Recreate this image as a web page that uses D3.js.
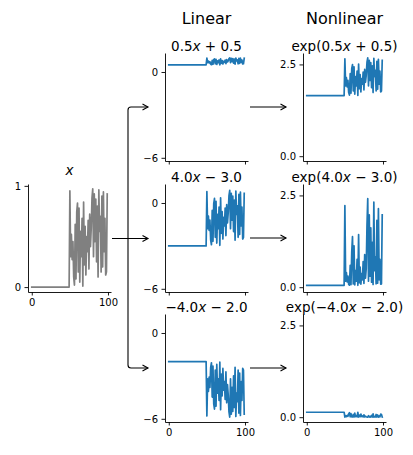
<!DOCTYPE html>
<html><head><meta charset="utf-8">
<script src="https://cdn.jsdelivr.net/npm/d3@7"></script>
<style>body{margin:0;background:#fff} text{font-family:"DejaVu Sans",sans-serif}</style>
</head><body><svg id="c" width="413" height="455"></svg>
<script>
// ---- data ----
const xValues = [
  0,0,0,0,0,0,0,0,0,0, 0,0,0,0,0,0,0,0,0,0,
  0,0,0,0,0,0,0,0,0,0, 0,0,0,0,0,0,0,0,0,0,
  0,0,0,0,0,0,0,0,0,0,
  0.95,0.30,0.52,0.27,0.45,0.10,0.02,0.62,0.08,0.74,
  0.83,0.15,0.78,0.05,0.55,0.30,0.68,0.01,0.84,0.22,
  0.60,0.12,0.50,0.35,0.66,0.18,0.72,0.40,0.58,0.88,
  0.97,0.30,0.92,0.45,0.87,0.25,0.80,0.10,0.96,0.55,
  0.70,0.15,0.90,0.20,0.94,0.35,0.68,0.12,0.15,0.92
];
const linearA = [0.5, 4.0, -4.0];
const linearB = [0.5, -3.0, -2.0];
const xTicks = [0, 100];
const inputTicks = [0, 1];
const linearTicks = [-6, 0];
const expTicks = [0, 2.5];
const columnTitles = ["Linear", "Nonlinear"];

// ---- layout ----
const svg = d3.select("#c");
svg.append("rect").attr("width",413).attr("height",455).attr("fill","#fff");
const W = 83, H = 108;
const colX = [28, 165, 303];
const rowY = [53, 184, 314];
const BLUE = "#1f77b4";
const MINUS = "\u2212";

const idx = xValues.map((_, i) => i);
function padDomain(vals){
  const lo = d3.min(vals), hi = d3.max(vals), m = (hi - lo) * 0.05;
  return [lo - m, hi + m];
}
const x = d3.scaleLinear().domain(padDomain(idx)).range([0, W]);

const linSeries = linearA.map((a, k) => xValues.map(v => a * v + linearB[k]));
const expSeries = linSeries.map(s => s.map(v => Math.exp(v)));
const linDomain = padDomain(linSeries.flat());
const expDomain = padDomain(expSeries.flat());

function fmtNum(v){ return (v < 0 ? MINUS : "") + Math.abs(v).toFixed(1); }

function addTitle(g, parts, baseline){
  const t = g.append("text").attr("x", W/2).attr("y", baseline)
    .attr("text-anchor","middle").attr("font-size",13.5).attr("fill","#000");
  parts.forEach(p => {
    const ts = t.append("tspan").text(p.t);
    if (p.i) ts.attr("font-style","italic");
  });
}

function panel(px, py, vals, yDomain, yTicks, yFmt, showXLabels, color, titleParts, titleBase){
  const g = svg.append("g").attr("transform", `translate(${px},${py})`);
  const y = d3.scaleLinear().domain(yDomain).range([H, 0]);
  const line = d3.line().x((d,i) => x(i)).y(d => y(d));
  g.append("path").datum(vals).attr("d", line).attr("fill","none")
    .attr("stroke", color).attr("stroke-width",1.7)
    .attr("stroke-linejoin","round").attr("stroke-linecap","square");
  const ya = g.append("g").call(d3.axisLeft(y).tickValues(yTicks).tickFormat(yFmt)
    .tickSize(3.5).tickSizeOuter(0).tickPadding(3.5));
  const xa = g.append("g").attr("transform",`translate(0,${H})`)
    .call(d3.axisBottom(x).tickValues(xTicks).tickFormat(showXLabels ? d3.format("d") : () => "")
    .tickSize(3.5).tickSizeOuter(0).tickPadding(3.5));
  [ya, xa].forEach(a => {
    a.attr("font-family","DejaVu Sans").attr("font-size",10);
    a.selectAll("path,line").attr("stroke","#000").attr("stroke-width",0.9);
    a.selectAll("text").attr("fill","#000");
  });
  addTitle(g, titleParts, titleBase);
}

// input panel
panel(colX[0], rowY[1], xValues, padDomain(xValues), inputTicks, d3.format("d"), true, "#808080",
  [{t:"x", i:true}], -9);

// linear & exp panels
linearA.forEach((a, k) => {
  const aStr = fmtNum(a);
  const bStr = (linearB[k] < 0 ? " " + MINUS + " " : " + ") + Math.abs(linearB[k]).toFixed(1);
  const last = k === linearA.length - 1;
  panel(colX[1], rowY[k], linSeries[k], linDomain, linearTicks, d => d3.format("d")(d), last, BLUE,
    [{t:aStr},{t:"x",i:true},{t:bStr}], -2.5);
  panel(colX[2], rowY[k], expSeries[k], expDomain, expTicks, d3.format(".1f"), last, BLUE,
    [{t:"exp(" + aStr},{t:"x",i:true},{t:bStr + ")"}], -2.5);
});

// column titles
columnTitles.forEach((t, j) => {
  svg.append("text").attr("x", colX[j+1] + W/2).attr("y", 24).attr("text-anchor","middle")
    .attr("font-size",16).attr("fill","#000").text(t);
});

// arrows
const defs = svg.append("defs");
defs.append("marker").attr("id","ah").attr("markerUnits","userSpaceOnUse")
  .attr("markerWidth",14).attr("markerHeight",14).attr("refX",0).attr("refY",0)
  .attr("viewBox","-7 -7 14 14").attr("orient","auto")
  .append("path").attr("d","M-5.5,-3 L0,0 L-5.5,3").attr("fill","none")
  .attr("stroke","#000").attr("stroke-width",1.1);

const startX = colX[0] + W + 1, midY = rowY[1] + H/2 + 0.5, branchX = 128, tipX = colX[1] - 17;
rowY.forEach((ry, k) => {
  const ty = ry + H/2;
  let d;
  if (k === 1) d = `M${startX},${midY} H${tipX}`;
  else {
    const s = ty < midY ? 1 : -1;
    d = `M${startX},${midY} H${branchX} V${ty + 3*s} Q${branchX},${ty} ${branchX+3},${ty} H${tipX}`;
  }
  svg.append("path").attr("d", d).attr("fill","none").attr("stroke","#000")
    .attr("stroke-width",1.1).attr("marker-end","url(#ah)");
  svg.append("path").attr("d", `M${colX[1]+W+2},${ty} H${colX[2]-17}`).attr("fill","none")
    .attr("stroke","#000").attr("stroke-width",1.1).attr("marker-end","url(#ah)");
});
</script></body></html>
